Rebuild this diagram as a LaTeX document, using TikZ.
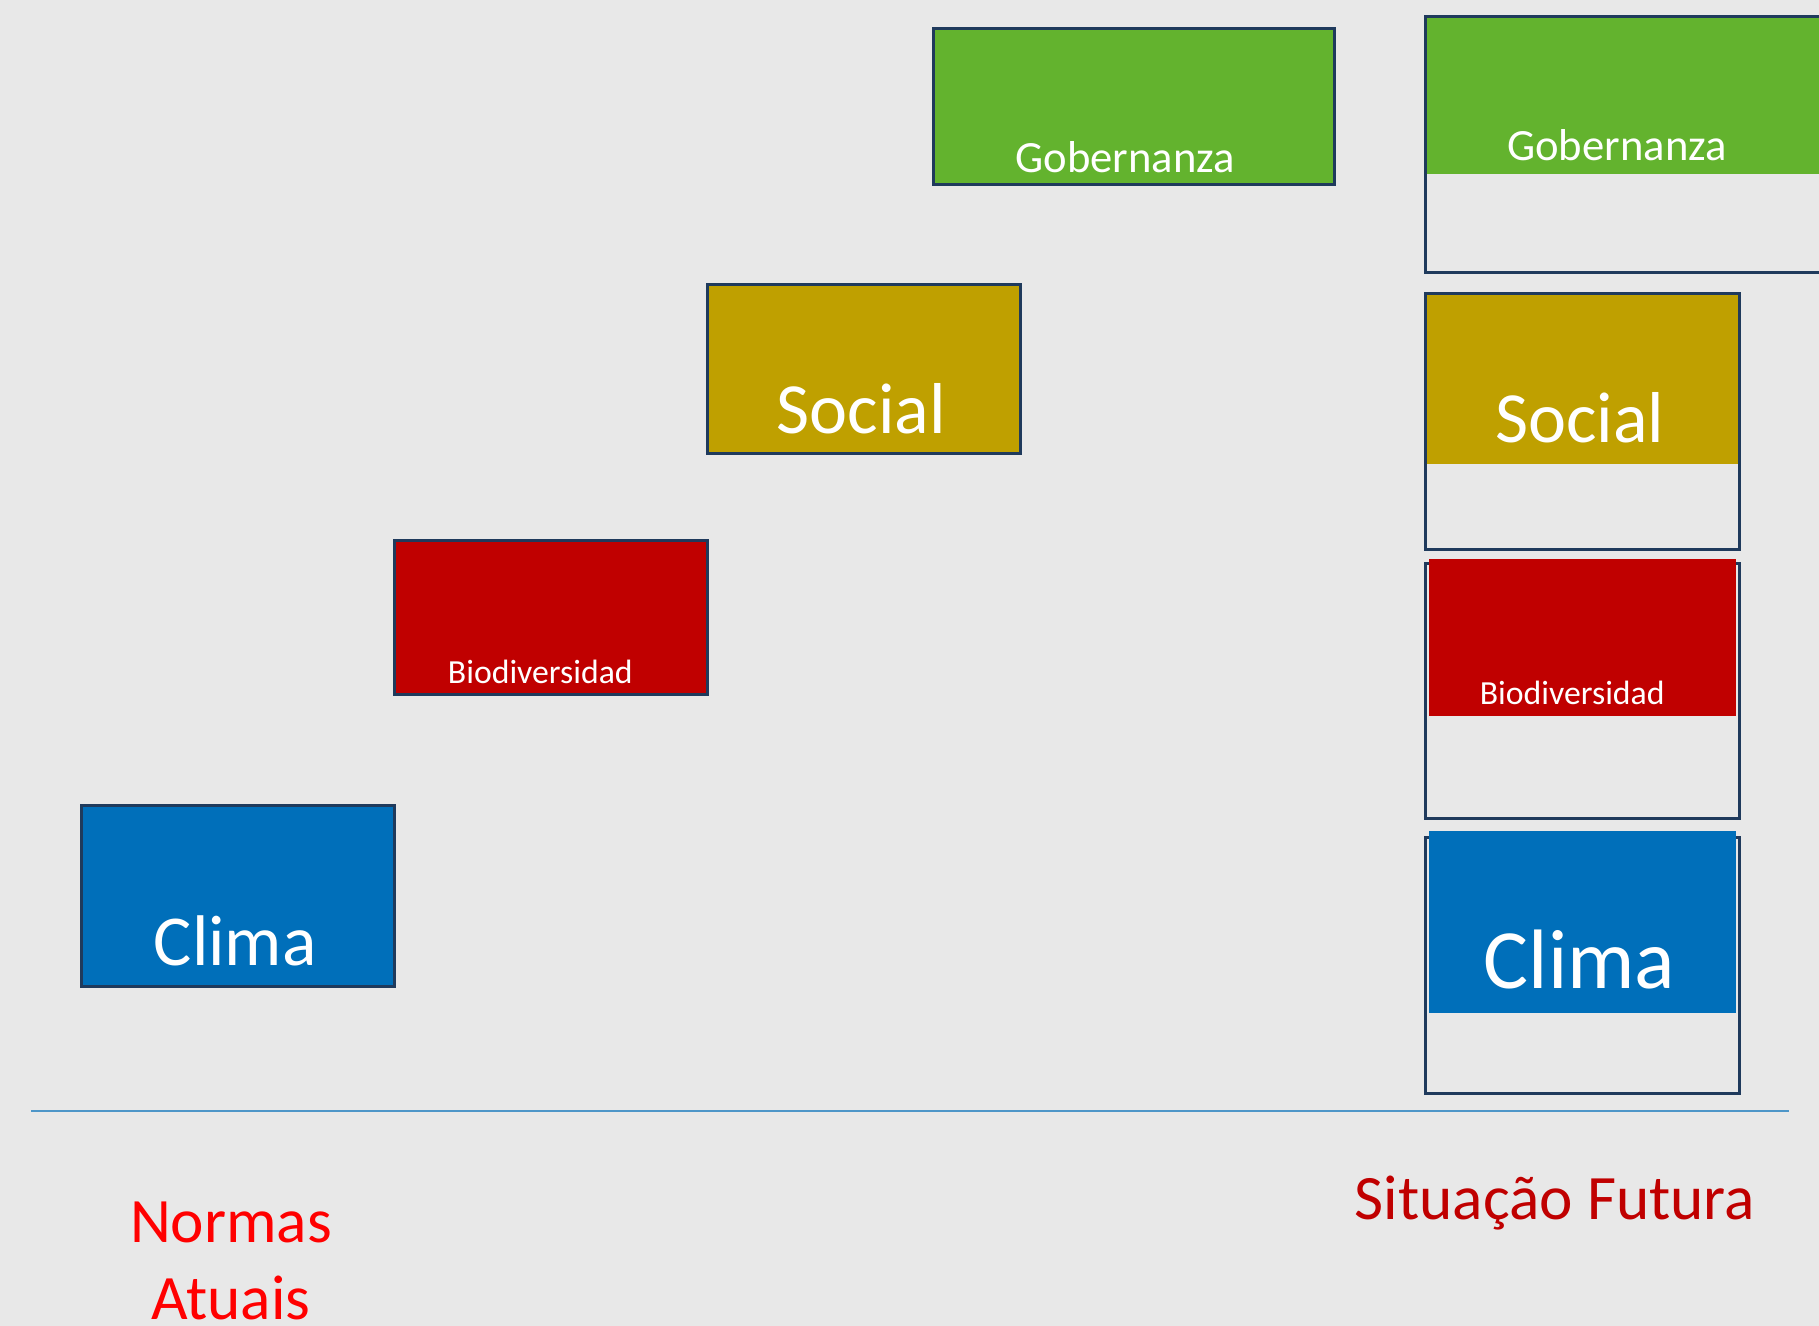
\documentclass[tikz,border=0pt]{standalone}
\usepackage{fontspec}
\setmainfont{Carlito}
\usetikzlibrary{positioning}
\usetikzlibrary{calc}
\definecolor{fundo}{HTML}{E8E8E8}
\definecolor{contorno}{HTML}{1F3A5C}
\definecolor{verde}{HTML}{63B32E}
\definecolor{oliva}{HTML}{BFA000}
\definecolor{vermelho}{HTML}{C00000}
\definecolor{azul}{HTML}{006FBA}
\definecolor{linhaazul}{HTML}{4E96C8}
\tikzset{bloco/.style={draw=contorno, line width=0.75pt, inner sep=0pt, anchor=north west}}
\tikzset{faixa/.style={inner sep=0pt, anchor=north west}}
\tikzset{moldura/.style={draw=contorno, line width=0.75pt, inner sep=0pt, anchor=north west}}
\tikzset{rotulo/.style={text=white, inner sep=0pt}}
\tikzset{legenda/.style={inner sep=0pt, anchor=base, font=\fontsize{18}{22}\selectfont}}

\begin{document}
\begin{tikzpicture}
        \useasboundingbox (0,0) rectangle (18.19,-13.26);
        \clip (0,0) rectangle (18.19,-13.26);
        \fill[fundo] (0,0) rectangle (18.19,-13.26);

        % normas atuais
        \node[bloco, fill=azul, minimum width=3.13cm, minimum height=1.81cm] (clima) at (0.80,-8.04) {};
        \node[bloco, fill=vermelho, minimum width=3.13cm, minimum height=1.54cm] (biodiv) at (3.93,-5.39) {};
        \node[bloco, fill=oliva, minimum width=3.13cm, minimum height=1.69cm] (social) at (7.06,-2.83) {};
        \node[bloco, fill=verde, minimum width=4.01cm, minimum height=1.56cm] (gob) at (9.32,-0.27) {};

        \node[rotulo, font=\fontsize{20.4}{24}\selectfont, above=0.21 of clima.south, xshift=-0.025cm] (tclima) {Clima};
        \node[rotulo, font=\fontsize{9.6}{11}\selectfont, above=0.11 of biodiv.south, xshift=-0.105cm] (tbiodiv) {Biodiversidad};
        \node[rotulo, font=\fontsize{20.5}{24}\selectfont, above=0.20 of social.south, xshift=-0.025cm] (tsocial) {Social};
        \node[rotulo, font=\fontsize{12.7}{16}\selectfont, above=0.12 of gob.south, xshift=-0.085cm] (tgob) {Gobernanza};

        % situacao futura
        \node[faixa, fill=verde, minimum width=5.26cm, minimum height=1.58cm] (gob2) at (14.24,-0.15) {};
        \node[moldura, minimum width=5.26cm, minimum height=2.56cm] (qgob) at (14.24,-0.15) {};
        \node[faixa, fill=oliva, minimum width=3.14cm, minimum height=1.71cm] (social2) at (14.24,-2.92) {};
        \node[moldura, minimum width=3.14cm, minimum height=2.56cm] (qsocial) at (14.24,-2.92) {};
        \node[moldura, minimum width=3.14cm, minimum height=2.55cm] (qbiodiv) at (14.24,-5.62) {};
        \node[faixa, fill=vermelho, minimum width=3.07cm, minimum height=1.57cm] (biodiv2) at (14.28,-5.58) {};
        \node[moldura, minimum width=3.14cm, minimum height=2.56cm] (qclima) at (14.24,-8.36) {};
        \node[faixa, fill=azul, minimum width=3.07cm, minimum height=1.82cm] (clima2) at (14.28,-8.30) {};

        \node[rotulo, font=\fontsize{12.7}{16}\selectfont, anchor=base] (tgob2) at ($(gob2.south west)+(1.93,0.14)$) {Gobernanza};
        \node[rotulo, font=\fontsize{20.5}{24}\selectfont, above=0.21 of social2.south, xshift=-0.02cm] (tsocial2) {Social};
        \node[rotulo, font=\fontsize{9.6}{11}\selectfont, above=0.11 of biodiv2.south, xshift=-0.10cm] (tbiodiv2) {Biodiversidad};
        \node[rotulo, font=\fontsize{24}{28}\selectfont, above=0.24 of clima2.south, xshift=-0.025cm] (tclima2) {Clima};

        % linha de base
        \coordinate (baseE) at (0.31,-11.11);
        \coordinate (baseD) at (17.89,-11.11);
        \draw[linhaazul, line width=0.6pt] (baseE) -- (baseD);

        \node[legenda, text=red] (normas) at (2.31,-12.42) {Normas};
        \node[legenda, text=red] (atuais) at ($(normas.base)+(0,-0.77)$) {Atuais};
        \node[legenda, text=vermelho] (futura) at (15.55,-12.19) {Situação Futura};
    \end{tikzpicture}
\end{document}
